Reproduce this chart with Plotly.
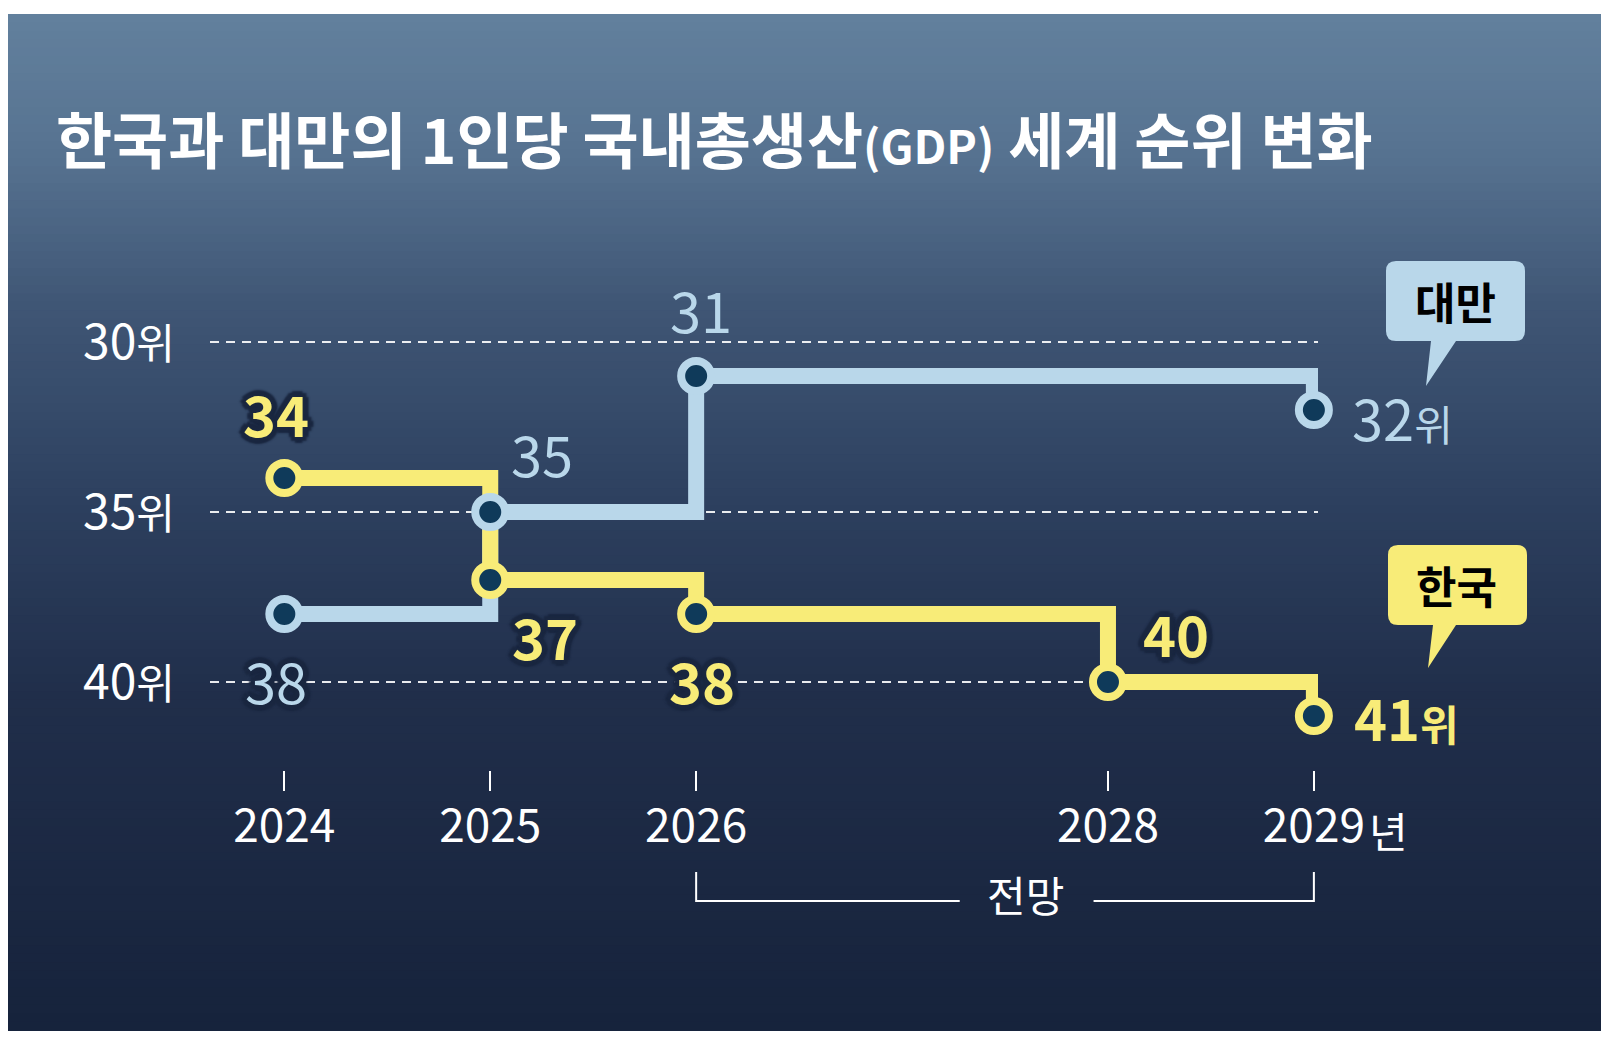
import plotly.graph_objects as go

# 1인당 GDP 세계 순위 (2026년 이후는 전망)
years_kr = [2024, 2025, 2026, 2028, 2029]
rank_kr = [34, 37, 38, 40, 41]
years_tw = [2024, 2025, 2026, 2029]
rank_tw = [38, 35, 31, 32]

labels_kr = ['34', '37', '38', '40', '41위']
labels_tw = ['38', '35', '31', '32위']

x_tickvals = [2024, 2025, 2026, 2028, 2029]
x_ticktext = ['2024', '2025', '2026', '2028', '2029']
y_tickvals = [30, 35, 40]
y_ticktext = ['30위', '35위', '40위']

title_text = '한국과 대만의 1인당 국내총생산<span style="font-size:46px">(GDP)</span> 세계 순위 변화'

FONT = 'Noto Sans CJK KR'
YELLOW = '#f8ec78'
BLUE = '#b9d7ea'
NAVY = '#0f3a5a'
HALO = '#1a2740'

W, H = 1609, 1041
OFF = 8  # page body margin
plot_w, plot_h = 1108, 530
L, T = 210 - OFF, 240 - OFF
R, B = W - L - plot_w, H - T - plot_h


def px_x(px):
    return (px - OFF - L) / plot_w


def px_y(py):
    return (H - B - (py - OFF)) / plot_h


def mix(c1, c2, t):
    return 'rgb(%d,%d,%d)' % tuple(round(a + (b - a) * t) for a, b in zip(c1, c2))


def wi(s, size):
    return s[:-1] + '<span style="font-size:%dpx">위</span>' % size if s.endswith('위') else s


# background gradient (pixel y, colour)
grad = [(15, (98, 128, 157)), (150, (87, 115, 145)), (300, (64, 87, 118)),
        (500, (45, 64, 95)), (700, (32, 46, 74)), (900, (26, 39, 65)), (1030, (22, 35, 60))]

shapes = []
n = 120
top, bot = 14, 1030
step = (bot - top) / n
for i in range(n):
    y0 = top + i * step
    yc = y0 + step / 2
    for (ya, ca), (yb, cb) in zip(grad[:-1], grad[1:]):
        if ya <= yc <= yb:
            col = mix(ca, cb, (yc - ya) / (yb - ya))
            break
    shapes.append(dict(type='rect', xref='paper', yref='paper', layer='below',
                       x0=px_x(4), x1=px_x(1606), y0=px_y(y0), y1=px_y(y0 + step + 1),
                       fillcolor=col, line=dict(width=0)))


def bubble(x0, y0, x1, y1, r, tl, tr, tip):
    P = lambda x, y: '%.5f,%.5f' % (px_x(x), px_y(y))
    d = 'M' + P(x0 + r, y0) + ' L' + P(x1 - r, y0) + ' Q' + P(x1, y0) + ' ' + P(x1, y0 + r)
    d += ' L' + P(x1, y1 - r) + ' Q' + P(x1, y1) + ' ' + P(x1 - r, y1)
    d += ' L' + P(tr, y1) + ' L' + P(tip[0], tip[1]) + ' L' + P(tl, y1)
    d += ' L' + P(x0 + r, y1) + ' Q' + P(x0, y1) + ' ' + P(x0, y1 - r)
    d += ' L' + P(x0, y0 + r) + ' Q' + P(x0, y0) + ' ' + P(x0 + r, y0) + ' Z'
    return d


shapes.append(dict(type='path', xref='paper', yref='paper', path=bubble(1386, 261, 1525, 341, 10, 1431, 1456, (1426, 386)),
                   fillcolor=BLUE, line=dict(width=0)))
shapes.append(dict(type='path', xref='paper', yref='paper', path=bubble(1388, 545, 1527, 625, 10, 1433, 1456, (1428, 668)),
                   fillcolor=YELLOW, line=dict(width=0)))

# 전망 bracket
yb_top, yb_bot = px_y(872), px_y(901)
shapes.append(dict(type='path', xref='x', yref='paper',
                   path='M2026,%f L2026,%f L2027.28,%f' % (yb_top, yb_bot, yb_bot),
                   line=dict(color='white', width=2)))
shapes.append(dict(type='path', xref='x', yref='paper',
                   path='M2027.93,%f L2029,%f L2029,%f' % (yb_bot, yb_bot, yb_top),
                   line=dict(color='white', width=2)))

fig = go.Figure()
fig.add_trace(go.Scatter(x=years_tw, y=rank_tw, mode='lines', line=dict(shape='hv', color=BLUE, width=16),
                         cliponaxis=False, hoverinfo='skip'))
fig.add_trace(go.Scatter(x=years_kr, y=rank_kr, mode='lines', line=dict(shape='hv', color=YELLOW, width=16),
                         cliponaxis=False, hoverinfo='skip'))
fig.add_trace(go.Scatter(x=years_tw, y=rank_tw, mode='markers', cliponaxis=False,
                         marker=dict(size=30, color=NAVY, line=dict(color=BLUE, width=8))))
fig.add_trace(go.Scatter(x=years_kr, y=rank_kr, mode='markers', cliponaxis=False,
                         marker=dict(size=30, color=NAVY, line=dict(color=YELLOW, width=8))))

outline = ', '.join('%dpx %dpx 2px %s' % (a, b, HALO) for a, b in
                    [(-4, -4), (4, -4), (-4, 4), (4, 4), (0, 6), (0, -6), (6, 0), (-6, 0), (0, 0)])

# label offsets (dx, dy up) from each point, outline flag
off_kr = [(-8, 66, True), (55, -55, True), (6, -65, True), (68, 50, True), (38, 0, False)]
off_tw = [(-8, -65, True), (52, 60, False), (5, 68, False), (36, -6, False)]

annotations = []
for xs, ys, labels, offs, color, weight in [(years_kr, rank_kr, labels_kr, off_kr, YELLOW, 'bold'),
                                           (years_tw, rank_tw, labels_tw, off_tw, BLUE, 'normal')]:
    for x, y, lab, (dx, dy, halo) in zip(xs, ys, labels, offs):
        end = lab.endswith('위')
        font = dict(family=FONT, size=56, color=color, weight=weight)
        if halo:
            font['shadow'] = outline
        annotations.append(dict(x=x, y=y, xref='x', yref='y', text=wi(lab, 42), showarrow=False,
                                xanchor='left' if end else 'center', yanchor='middle',
                                xshift=dx, yshift=dy, font=font))

annotations.append(dict(x=px_x(1455), y=px_y(301), xref='paper', yref='paper', text='<b>대만</b>',
                        xanchor='center', yanchor='middle', showarrow=False,
                        font=dict(family=FONT, size=44, color='black')))
annotations.append(dict(x=px_x(1456), y=px_y(585), xref='paper', yref='paper', text='<b>한국</b>',
                        xanchor='center', yanchor='middle', showarrow=False,
                        font=dict(family=FONT, size=44, color='black')))
annotations.append(dict(x=2027.6, y=px_y(893), xref='x', yref='paper', text='전망', showarrow=False,
                        xanchor='center', yanchor='middle', font=dict(family=FONT, size=42, color='white')))
annotations.append(dict(x=2029, y=px_y(829), xref='x', yref='paper', text='년', showarrow=False,
                        xanchor='left', yanchor='middle', xshift=53,
                        font=dict(family=FONT, size=42, color='white')))

fig.update_layout(
    width=W, height=H,
    margin=dict(l=L, r=R, t=T, b=B),
    paper_bgcolor='white',
    plot_bgcolor='rgba(0,0,0,0)',
    showlegend=False,
    title=dict(text='<b>' + title_text + '</b>', x=(56 - OFF) / W, xanchor='left', xref='container',
               y=1 - (143 - OFF) / H, yanchor='middle', yref='container',
               font=dict(family=FONT, size=61, color='white')),
    xaxis=dict(range=[2023.639, 2029.02], tickvals=x_tickvals, ticktext=x_ticktext,
               showgrid=False, zeroline=False, showline=False,
               ticks='outside', ticklen=20, tickwidth=2, tickcolor='white',
               ticklabelstandoff=-4, tickfont=dict(family=FONT, size=46, color='white')),
    yaxis=dict(range=[42.588, 27.0], tickvals=y_tickvals, ticktext=[wi(t, 42) for t in y_ticktext],
               showgrid=True, gridcolor='rgba(255,255,255,0.9)', griddash='9px,7px', gridwidth=2,
               zeroline=False, showline=False, ticks='', ticklabelstandoff=34,
               tickfont=dict(family=FONT, size=48, color='white')),
    shapes=shapes,
    annotations=annotations,
)

fig.write_html('out.html')
